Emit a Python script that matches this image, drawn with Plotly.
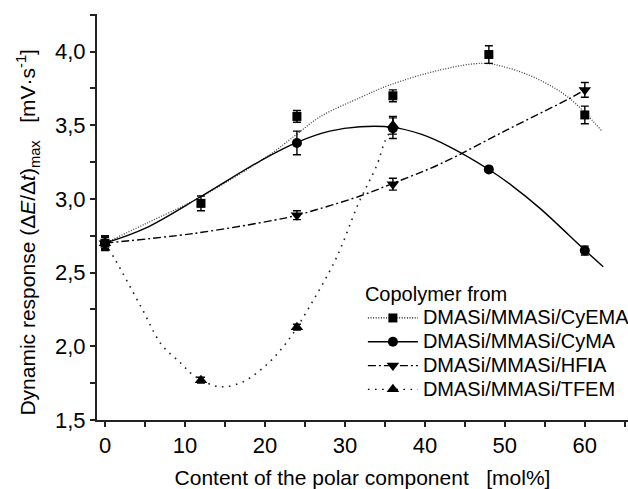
import plotly.graph_objects as go

# Measured responses (mean and error) per copolymer series
x_cyema = [0, 12, 24, 36, 48, 60]
y_cyema = [2.70, 2.97, 3.56, 3.70, 3.98, 3.57]
e_cyema = [0.04, 0.05, 0.04, 0.04, 0.06, 0.06]

x_cyma = [0, 24, 36, 48, 60]
y_cyma = [2.70, 3.38, 3.48, 3.20, 2.65]
e_cyma = [0.05, 0.08, 0.07, 0.02, 0.03]

x_hfia = [0, 24, 36, 60]
y_hfia = [2.70, 2.89, 3.10, 3.74]
e_hfia = [0.04, 0.03, 0.04, 0.05]

x_tfem = [0, 12, 24, 36]
y_tfem = [2.70, 1.77, 2.13, 3.50]
e_tfem = [0.04, 0.02, 0.02, 0.06]

# Trend curves
fx_cyema = [0, 5, 12, 20.6, 24, 26.9, 32, 35.6, 41.9, 47.3, 50.6, 54.4, 58.1, 62.1]
fy_cyema = [2.70, 2.83, 3.015, 3.30, 3.44, 3.558, 3.69, 3.773, 3.875, 3.92, 3.886, 3.806, 3.682, 3.463]

fx_cyma = [0, 5, 12.1, 19.6, 24, 28.1, 31.9, 36, 39.6, 43.1, 48, 50.8, 54.4, 60, 62.3]
fy_cyma = [2.70, 2.80, 3.02, 3.264, 3.384, 3.46, 3.49, 3.486, 3.438, 3.354, 3.20, 3.094, 2.936, 2.653, 2.54]

fx_hfia = [0, 11.25, 21.25, 24, 31.9, 36, 41.9, 50.2, 58.1, 59.6]
fy_hfia = [2.70, 2.767, 2.857, 2.89, 3.02, 3.106, 3.237, 3.467, 3.682, 3.727]

fx_tfem = [0, 1.25, 4.6, 7.1, 9.5, 10.9, 13.5, 15, 17.3, 20.3, 22.9, 25.7, 29, 31.7, 34, 35, 36]
fy_tfem = [2.70, 2.59, 2.258, 2.009, 1.885, 1.81, 1.735, 1.726, 1.76, 1.88, 2.04, 2.28, 2.608, 2.97, 3.23, 3.39, 3.49]

names = ["DMASi/MMASi/CyEMA", "DMASi/MMASi/CyMA", "DMASi/MMASi/HF<b>I</b>A", "DMASi/MMASi/TFEM"]

FONT = "Liberation Sans, Arial, sans-serif"
BLACK = "#000000"
AXIS = "#222222"

dash_cyema = "1px,1.6px"
dash_cyma = "solid"
dash_hfia = "8px,3px,2px,3px"
dash_tfem = "1.6px,5.5px"

fig = go.Figure()

curves = [
    (fx_cyema, fy_cyema, dash_cyema, 1.3, "#444444"),
    (fx_cyma, fy_cyma, dash_cyma, 1.4, BLACK),
    (fx_hfia, fy_hfia, dash_hfia, 1.4, BLACK),
    (fx_tfem, fy_tfem, dash_tfem, 1.6, "#222222"),
]
for fx, fy, dash, w, col in curves:
    fig.add_trace(go.Scatter(
        x=fx, y=fy, mode="lines", showlegend=False, hoverinfo="skip",
        line=dict(color=col, width=w, dash=dash, shape="spline", smoothing=1),
    ))

def points(x, y, e, symbol, size):
    return go.Scatter(
        x=x, y=y, mode="markers", showlegend=False,
        marker=dict(symbol=symbol, size=size, color=BLACK, line=dict(width=0)),
        error_y=dict(type="data", array=e, visible=True, color=BLACK,
                     thickness=1.4, width=4),
    )

fig.add_trace(points(x_tfem, y_tfem, e_tfem, "triangle-up", 11))
fig.add_trace(points(x_hfia, y_hfia, e_hfia, "triangle-down", 11))
fig.add_trace(points(x_cyema, y_cyema, e_cyema, "square", 9))
fig.add_trace(points(x_cyma, y_cyma, e_cyma, "circle", 10))

# Legend entries: line style plus marker; labels sized larger than the row pitch
legend_items = [
    (names[0], dash_cyema, "square", 9),
    (names[1], dash_cyma, "circle", 10),
    (names[2], dash_hfia, "triangle-down", 11),
    (names[3], dash_tfem, "triangle-up", 11),
]
for name, dash, sym, size in legend_items:
    fig.add_trace(go.Scatter(
        x=[None], y=[None], mode="lines+markers",
        name='<span style="font-size:20px">' + name + "</span>",
        line=dict(color=BLACK, width=1.3, dash=dash),
        marker=dict(symbol=sym, size=size, color=BLACK),
    ))

axis_common = dict(
    showline=True, linecolor=AXIS, linewidth=2, mirror=False,
    showgrid=False, zeroline=False, ticks="outside", ticklen=5,
    tickwidth=1.5, tickcolor=AXIS,
    tickfont=dict(family=FONT, size=22, color=BLACK),
)

fig.update_layout(
    width=628, height=489,
    margin=dict(l=97, r=0, t=14, b=69, autoexpand=False),
    paper_bgcolor="white", plot_bgcolor="white",
    separators=",.",
    font=dict(family=FONT, color=BLACK),
    xaxis=dict(
        range=[-1, 65.4], tickmode="linear", tick0=0, dtick=10,
        minor=dict(ticks="outside", dtick=5, tick0=0, ticklen=5, tickwidth=1.5, tickcolor=AXIS),
        title=dict(text="Content of the polar component\u00a0\u00a0\u00a0[mol%]",
                   font=dict(family=FONT, size=21, color=BLACK), standoff=16),
        **axis_common,
    ),
    yaxis=dict(
        range=[1.5, 4.255], tickmode="linear", tick0=1.5, dtick=0.5, tickformat=".1f",
        minor=dict(ticks="outside", dtick=0.25, tick0=1.5, ticklen=5, tickwidth=1.5, tickcolor=AXIS),
        **axis_common,
    ),
    annotations=[dict(
        text="Dynamic response (Δ<i>E</i>/Δ<i>t</i>)<sub>max</sub>\u00a0\u00a0\u00a0[mV·s<sup>-1</sup>]",
        font=dict(family=FONT, size=21, color=BLACK),
        textangle=-90, xref="paper", yref="paper",
        x=-0.13, y=0.464, xanchor="center", yanchor="middle", showarrow=False,
    )],
    legend=dict(
        title=dict(text="Copolymer from", font=dict(family=FONT, size=20, color=BLACK)),
        font=dict(family=FONT, size=16, color=BLACK),
        x=1.013, y=0.357, xanchor="right", yanchor="top",
        bgcolor="rgba(0,0,0,0)", borderwidth=0,
        tracegroupgap=0, itemwidth=50,
    ),
)

fig.write_html("out.html")
